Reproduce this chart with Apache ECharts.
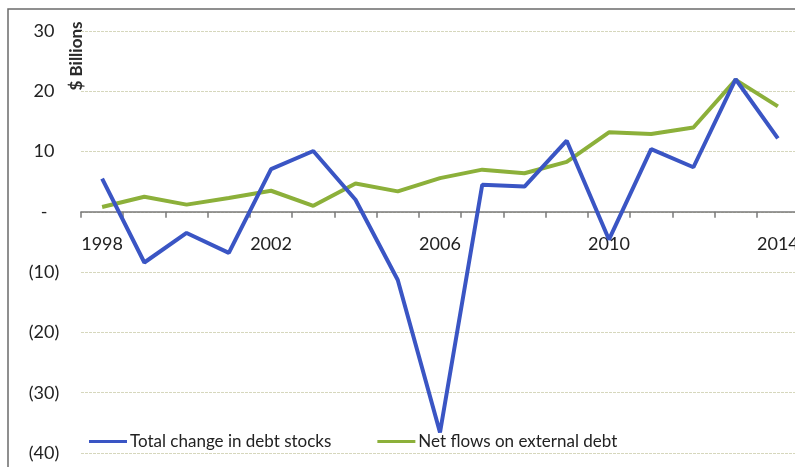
<!DOCTYPE html>
<html>
<head>
<meta charset="utf-8">
<script src="https://cdn.jsdelivr.net/npm/echarts@6/dist/echarts.min.js"></script>
<style>
  html, body { margin: 0; padding: 0; background: #ffffff; }
  #chart { width: 795px; height: 467px; }
</style>
</head>
<body>
<div id="chart"></div>
<script>
// Years on the category axis
const years = ['1998','1999','2000','2001','2002','2003','2004','2005','2006',
               '2007','2008','2009','2010','2011','2012','2013','2014'];

// Total change in debt stocks ($ billions)
const totalChange = [5.5, -8.4, -3.5, -6.8, 7.1, 10.1, 2.0, -11.3, -36.6,
                     4.5, 4.2, 11.8, -4.6, 10.4, 7.4, 22.0, 12.2];

// Net flows on external debt ($ billions)
const netFlows = [0.8, 2.5, 1.2, 2.3, 3.5, 1.0, 4.7, 3.4, 5.6,
                  7.0, 6.4, 8.3, 13.2, 12.9, 14.0, 21.9, 17.5];

// Value axis range
const yMin = -40, yMax = 30, yStep = 10;

const seriesNames = ['Total change in debt stocks', 'Net flows on external debt'];
const blue = '#3a55c4';
const green = '#8cb03a';
const font = 'Lato, "Open Sans", sans-serif';

// Plot area
const gridTop = 31, gridBottom = 14, chartH = 467;
const plotH = chartH - gridTop - gridBottom;
// The category axis sits at value 0, lifted from the bottom of the plot
const zeroOffset = -plotH * (0 - yMin) / (yMax - yMin);

function fmt(v) {
  if (v === 0) return '-';
  return v < 0 ? '(' + Math.abs(v) + ')' : String(v);
}

const chart = echarts.init(document.getElementById('chart'));
chart.setOption({
  animation: false,
  backgroundColor: '#ffffff',
  grid: {
    left: 81, right: -4, top: gridTop, bottom: gridBottom,
    containLabel: false, outerBoundsMode: 'none'
  },
  graphic: [
    {
      type: 'rect',
      shape: { x: 8, y: 9, width: 820, height: 500 },
      style: { fill: 'none', stroke: '#6b6b6b', lineWidth: 1.5 },
      z: 0
    },
    {
      type: 'text',
      x: 77, y: 56,
      rotation: Math.PI / 2,
      style: {
        text: '$ Billions',
        font: 'bold 17px ' + font,
        fill: '#2a2a2a',
        textAlign: 'center',
        textVerticalAlign: 'middle'
      }
    }
  ],
  legend: {
    left: 84, top: 428,
    itemWidth: 38, itemHeight: 3, itemGap: 46,
    icon: 'rect',
    textStyle: { fontFamily: font, fontSize: 17, color: '#222222', padding: [0, 0, 0, -2] },
    data: seriesNames
  },
  xAxis: {
    type: 'category',
    data: years,
    boundaryGap: true,
    position: 'bottom',
    offset: zeroOffset,
    axisLine: { onZero: false, lineStyle: { color: '#7a7a7a', width: 1.5 } },
    axisTick: { show: true, interval: 0, length: 6, lineStyle: { color: '#7a7a7a', width: 1.5 } },
    axisLabel: { interval: 3, margin: 23, fontFamily: font, fontSize: 18, color: '#222222' },
    splitLine: { show: false }
  },
  yAxis: {
    type: 'value',
    min: yMin, max: yMax, interval: yStep,
    axisLine: { show: false },
    axisTick: { show: false },
    axisLabel: {
      margin: 37, align: 'center',
      fontFamily: font, fontSize: 18, color: '#222222',
      formatter: fmt
    },
    splitLine: { show: true, lineStyle: { color: '#d6d7bd', width: 1, type: [3, 1] } }
  },
  series: [
    {
      name: seriesNames[0],
      type: 'line',
      data: totalChange,
      symbol: 'none',
      lineStyle: { color: blue, width: 4 },
      itemStyle: { color: blue },
      z: 3
    },
    {
      name: seriesNames[1],
      type: 'line',
      data: netFlows,
      symbol: 'none',
      lineStyle: { color: green, width: 4 },
      itemStyle: { color: green },
      z: 2
    }
  ]
});
</script>
</body>
</html>
